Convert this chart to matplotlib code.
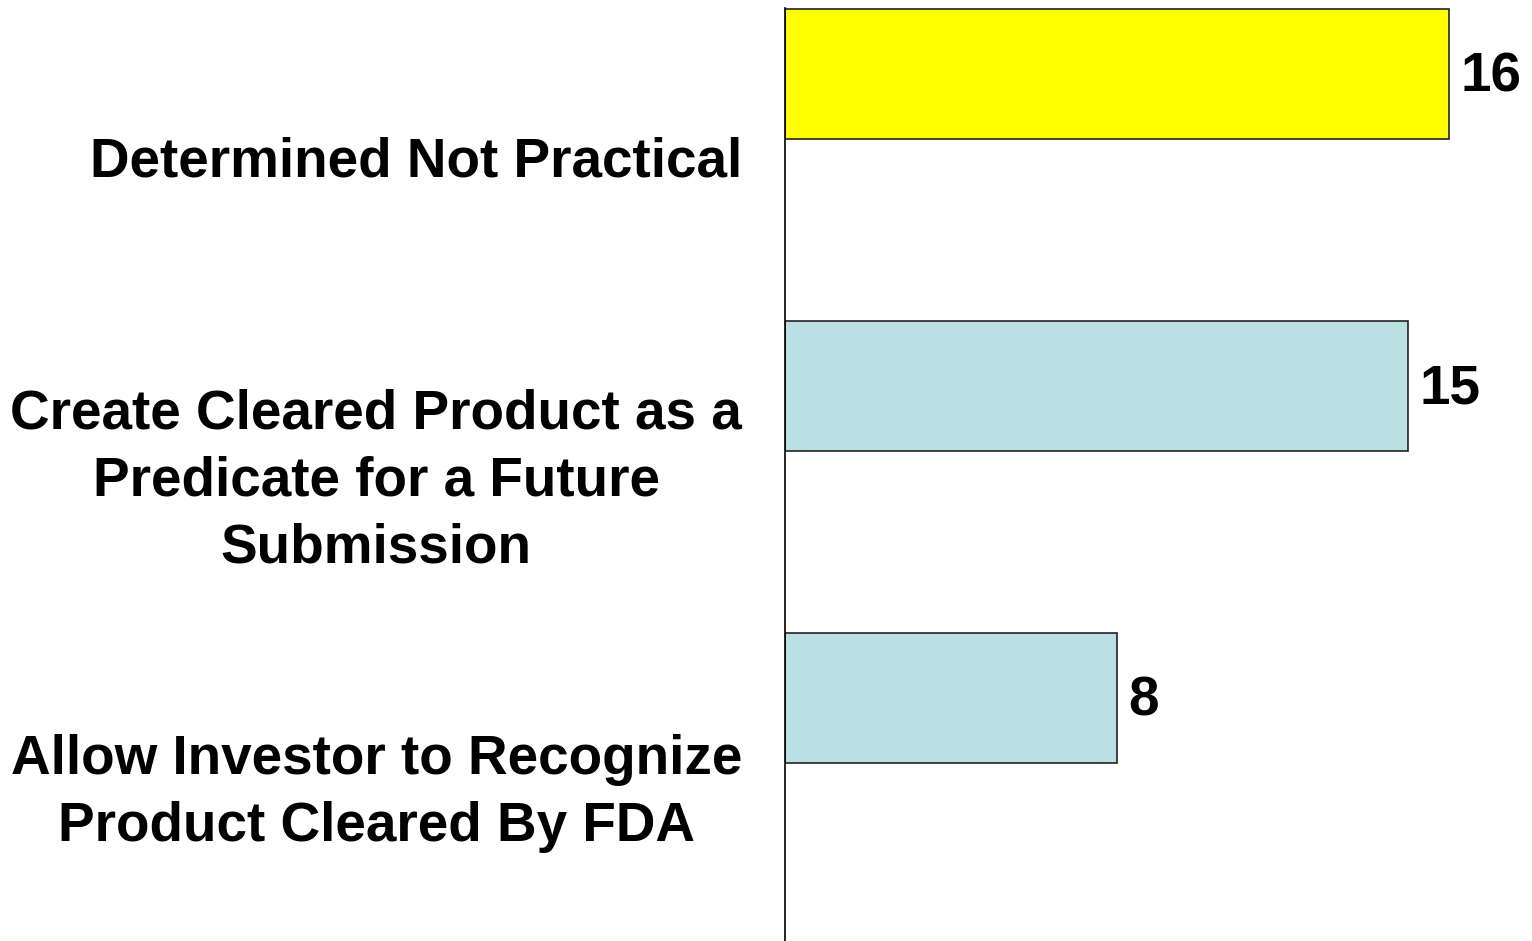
import matplotlib.pyplot as plt

plt.rcParams['font.family'] = ['Liberation Sans', 'DejaVu Sans']

categories = ['Determined Not Practical',
              'Create Cleared Product as a\nPredicate for a Future\nSubmission',
              'Allow Investor to Recognize\nProduct Cleared By FDA']
values = [16, 15, 8]
colors = ['#FFFF00', '#BBE0E3', '#BBE0E3']

fig = plt.figure(figsize=(15.32, 9.41), dpi=100)
ax = fig.add_axes([785 / 1532, -0.0032, 747 / 1532, 0.9947])

pos = list(range(len(categories)))
bar_pos = [p - 0.288 for p in pos]
bars = ax.barh(bar_pos, values, height=0.417, color=colors,
               edgecolor='#222222', linewidth=1.2)

for b, v in zip(bars, values):
    ax.text(b.get_width() + 0.28, b.get_y() + b.get_height() / 2 + 0.01, str(v),
            ha='left', va='center', fontsize=39.5, fontweight='bold')

ax.set_xlim(0, 18)
ax.set_ylim(2.5, -0.5)
# labels sit a touch above the band centres
ax.set_yticks([p - 0.025 for p in pos])
ax.set_yticklabels(categories, fontsize=39.5, fontweight='bold', linespacing=1.37)
for lbl in ax.get_yticklabels():
    lbl.set_multialignment('center')
ax.tick_params(axis='y', length=0, pad=31)
ax.set_xticks([])
for s in ['top', 'right', 'bottom']:
    ax.spines[s].set_visible(False)
ax.spines['left'].set_linewidth(1.2)
ax.patch.set_alpha(0)

fig.savefig('out.png', dpi=100)
